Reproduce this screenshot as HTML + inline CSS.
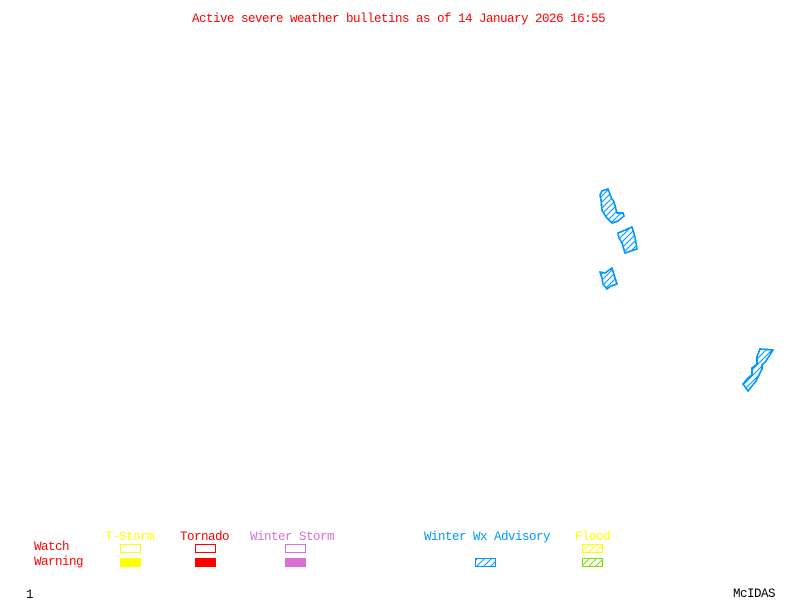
<!DOCTYPE html>
<html>
<head>
<meta charset="utf-8">
<style>
html,body{margin:0;padding:0;background:#fff;width:800px;height:600px;overflow:hidden}
svg{display:block}
text{font-family:"Liberation Mono",monospace;font-size:12.5px;letter-spacing:-0.5px;white-space:pre}
</style>
</head>
<body>
<svg width="800" height="600" viewBox="0 0 800 600" xmlns="http://www.w3.org/2000/svg">
<defs>
<pattern id="hd" width="6" height="6" patternUnits="userSpaceOnUse"><path d="M-1 7L7 -1M-1 1L1 -1M5 7L7 5" stroke="#0099ff" stroke-width="1.1" fill="none"/></pattern>
<pattern id="hb" width="7" height="7" patternUnits="userSpaceOnUse"><path d="M-1 8L8 -1M-1 1L1 -1M6 8L8 6" stroke="#0099ff" stroke-width="1" fill="none"/></pattern>
<pattern id="hy" width="7" height="7" patternUnits="userSpaceOnUse"><path d="M-1 8L8 -1M-1 1L1 -1M6 8L8 6" stroke="#ffff00" stroke-width="1" fill="none"/></pattern>
<pattern id="hg" width="7" height="7" patternUnits="userSpaceOnUse"><path d="M-1 8L8 -1M-1 1L1 -1M6 8L8 6" stroke="#7fdd00" stroke-width="1" fill="none"/></pattern>
</defs>
<rect width="800" height="600" fill="#fff"/>
<text x="192" y="22" fill="#ff0000">Active severe weather bulletins as of 14 January 2026 16:55</text>

<g fill="url(#hd)" stroke="#0099ff" stroke-width="1.7" stroke-linejoin="round" shape-rendering="crispEdges">
<polygon points="600,195 602,191 608,189 611,197 614,202 617,213 623,213 624,216 618,221 612,223 606,217 602,210 601,200"/>
<polygon points="618,233 623,231 632,227 635,237 636,243 637,249 625,253 622,243 619,238"/>
<polygon points="600,272 605,273 612,268 615,278 617,284 611,286 607,289 603,284 602,278"/>
<polygon points="760,349 773,350 766,361 762,365 762,369 759,375 756,381 748,391 743,384 748,378 752,375 752,368 757,364 757,357"/>
</g>

<text x="105" y="540" fill="#ffff00">T-Storm</text>
<text x="180" y="540" fill="#ff0000">Tornado</text>
<text x="250" y="540" fill="#da70d6">Winter Storm</text>
<text x="424" y="540" fill="#0099ff">Winter Wx Advisory</text>
<text x="575" y="540" fill="#ffff00">Flood</text>
<text x="34" y="550" fill="#ff0000">Watch</text>
<text x="34" y="565" fill="#ff0000">Warning</text>
<text x="26" y="598" fill="#000">1</text>
<text x="733" y="597" fill="#000">McIDAS</text>

<g shape-rendering="crispEdges" fill="none" stroke-width="1">
<rect x="120.5" y="544.5" width="20" height="8" stroke="#ffff00"/>
<rect x="195.5" y="544.5" width="20" height="8" stroke="#ff0000"/>
<rect x="285.5" y="544.5" width="20" height="8" stroke="#da70d6"/>
<rect x="582.5" y="544.5" width="20" height="8" stroke="#ffff00" fill="url(#hy)"/>
<rect x="475.5" y="558.5" width="20" height="8" stroke="#0099ff" fill="url(#hb)"/>
<rect x="582.5" y="558.5" width="20" height="8" stroke="#7fdd00" fill="url(#hg)"/>
<rect x="120" y="558" width="21" height="9" fill="#ffff00"/>
<rect x="195" y="558" width="21" height="9" fill="#ff0000"/>
<rect x="285" y="558" width="21" height="9" fill="#da70d6"/>
</g>
</svg>
</body>
</html>
